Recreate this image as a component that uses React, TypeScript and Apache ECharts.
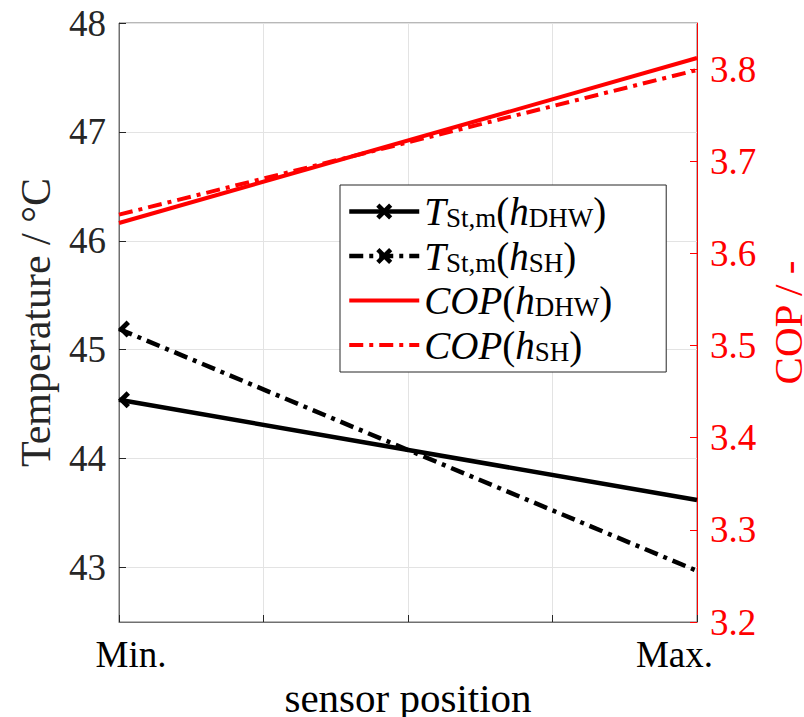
import React, { useEffect, useRef } from "react";
import * as echarts from "echarts";

// ---- data ----
const positions = [0, 1];
const xTickLabels = ["Min.", "Max."];
const tempDHW = [44.54, 43.62];
const tempSH = [45.19, 42.97];
const copDHW = [3.633, 3.812];
const copSH = [3.642, 3.799];
const tempTicks = [43, 44, 45, 46, 47, 48];
const copTicks = [3.2, 3.3, 3.4, 3.5, 3.6, 3.7, 3.8];

const FONT = "Liberation Serif";
const X_SYMBOL =
  "path://M0,4 L4,0 L10,6 L16,0 L20,4 L14,10 L20,16 L16,20 L10,14 L4,20 L0,16 L6,10 Z";
const HALF_X_SYMBOL = "path://M0,10 L10,0 L14,4 L8,10 L14,16 L10,20 Z";
const DASH_DOT = [14, 6, 4, 6];

const legendText: Record<string, string> = {
  T_DHW: "{it|T}{sub|St,m}{rm|(}{it|h}{sub|DHW}{rm|)}",
  T_SH: "{it|T}{sub|St,m}{rm|(}{it|h}{sub|SH}{rm|)}",
  COP_DHW: "{it|COP}{rm|(}{it|h}{sub|DHW}{rm|)}",
  COP_SH: "{it|COP}{rm|(}{it|h}{sub|SH}{rm|)}",
};

function pts(vals: number[], withMarker: boolean) {
  return vals.map((v, i) => {
    if (!withMarker) return [positions[i], v];
    if (i === 0)
      return {
        value: [positions[i], v],
        symbol: HALF_X_SYMBOL,
        symbolSize: [12, 17],
        symbolOffset: [5, 0],
      };
    return { value: [positions[i], v], symbolSize: 0 };
  });
}

export default function App() {
  const ref = useRef<HTMLDivElement>(null);
  useEffect(() => {
    if (!ref.current) return;
    const chart = echarts.init(ref.current, undefined, { renderer: "svg" });
    const axisGrey = "#707070";
    const textCol = "#262626";
    const legendItem = (name: string, width: number, red: boolean) => ({
      name,
      lineStyle: { width },
      itemStyle: red ? { opacity: 0 } : { opacity: 1 },
    });
    chart.setOption({
      animation: false,
      textStyle: { fontFamily: FONT },
      grid: {
        left: 119,
        top: 23,
        right: 107,
        bottom: 95,
        show: true,
        borderColor: axisGrey,
        borderWidth: 1,
        containLabel: false,
        outerBoundsMode: "none",
      },
      legend: {
        show: true,
        orient: "vertical",
        left: 340,
        top: 185,
        itemWidth: 70,
        itemHeight: 20,
        itemGap: 5,
        padding: [7, 54, 7, 7],
        borderColor: "#262626",
        borderWidth: 1,
        backgroundColor: "#fff",
        selectedMode: false,
        data: [
          legendItem("T_DHW", 4.5, false),
          legendItem("T_SH", 4.5, false),
          legendItem("COP_DHW", 4, true),
          legendItem("COP_SH", 4, true),
        ],
        formatter: (name: string) => legendText[name],
        textStyle: {
          color: "#000",
          fontFamily: FONT,
          fontSize: 39,
          rich: {
            it: { fontFamily: FONT, fontSize: 39, fontStyle: "italic", lineHeight: 40, color: "#000" },
            rm: { fontFamily: FONT, fontSize: 39, lineHeight: 40, color: "#000" },
            sub: { fontFamily: FONT, fontSize: 27, lineHeight: 20, verticalAlign: "bottom", color: "#000" },
          },
        },
      },
      xAxis: {
        type: "value",
        min: 0,
        max: 1,
        interval: 0.25,
        name: "sensor position",
        nameLocation: "middle",
        nameGap: 44,
        nameTextStyle: { fontFamily: FONT, fontSize: 41, color: "#000" },
        axisLine: { show: true, lineStyle: { color: axisGrey, width: 1 } },
        axisTick: { show: true, inside: true, length: 7, lineStyle: { color: textCol, width: 1 } },
        splitLine: { show: true, lineStyle: { color: "#e3e3e3", width: 1 } },
        axisLabel: {
          customValues: positions,
          margin: 14,
          fontFamily: FONT,
          fontSize: 37,
          color: "#000",
          formatter: (v: number) => (v === positions[0] ? "{mn|" + xTickLabels[0] + "}" : "{mx|" + xTickLabels[1] + "}"),
          rich: {
            mn: { fontFamily: FONT, fontSize: 37, color: "#000", padding: [0, 0, 0, 24] },
            mx: { fontFamily: FONT, fontSize: 37, color: "#000", padding: [0, 45, 0, 0] },
          },
        },
      },
      yAxis: [
        {
          type: "value",
          position: "left",
          min: 42.5,
          max: 48,
          name: "Temperature / °C",
          nameLocation: "middle",
          nameRotate: 90,
          nameGap: 62,
          nameTextStyle: { fontFamily: FONT, fontSize: 42, color: textCol },
          axisLine: { show: true, lineStyle: { color: axisGrey, width: 1 } },
          axisTick: { show: true, inside: true, length: 7, customValues: tempTicks, lineStyle: { color: textCol, width: 1 } },
          splitLine: { show: true, lineStyle: { color: "#e3e3e3", width: 1 } },
          axisLabel: {
            customValues: tempTicks,
            margin: 13,
            fontFamily: FONT,
            fontSize: 37,
            color: textCol,
            formatter: (v: number) => String(Math.round(v)),
          },
        },
        {
          type: "value",
          position: "right",
          min: 3.2,
          max: 3.85,
          name: "COP / -",
          nameLocation: "middle",
          nameRotate: 90,
          nameGap: 66,
          nameTextStyle: { fontFamily: FONT, fontSize: 41, color: "#ff0000" },
          axisLine: { show: true, lineStyle: { color: "#ff0000", width: 1 } },
          axisTick: { show: true, inside: true, length: 7, customValues: copTicks, lineStyle: { color: "#ff0000", width: 1 } },
          splitLine: { show: false },
          axisLabel: {
            customValues: copTicks,
            margin: 13,
            fontFamily: FONT,
            fontSize: 37,
            color: "#ff0000",
            formatter: (v: number) => v.toFixed(1),
          },
        },
      ],
      series: [
        { name: "COP_DHW", type: "line", yAxisIndex: 1, data: pts(copDHW, false), symbol: "none", lineStyle: { color: "#ff0000", width: 4 }, itemStyle: { color: "#ff0000" }, z: 2 },
        { name: "COP_SH", type: "line", yAxisIndex: 1, data: pts(copSH, false), symbol: "none", lineStyle: { color: "#ff0000", width: 4, type: DASH_DOT }, itemStyle: { color: "#ff0000" }, z: 2 },
        { name: "T_DHW", type: "line", yAxisIndex: 0, data: pts(tempDHW, true), symbol: X_SYMBOL, symbolSize: 16, lineStyle: { color: "#000", width: 4.5 }, itemStyle: { color: "#000" }, z: 3 },
        { name: "T_SH", type: "line", yAxisIndex: 0, data: pts(tempSH, true), symbol: X_SYMBOL, symbolSize: 16, lineStyle: { color: "#000", width: 4.5, type: DASH_DOT }, itemStyle: { color: "#000" }, z: 3 },
      ],
    });
    return () => chart.dispose();
  }, []);
  return (
    <div
      ref={ref}
      style={{ position: "fixed", left: 0, top: 0, width: 804, height: 717, background: "#fff" }}
    />
  );
}
